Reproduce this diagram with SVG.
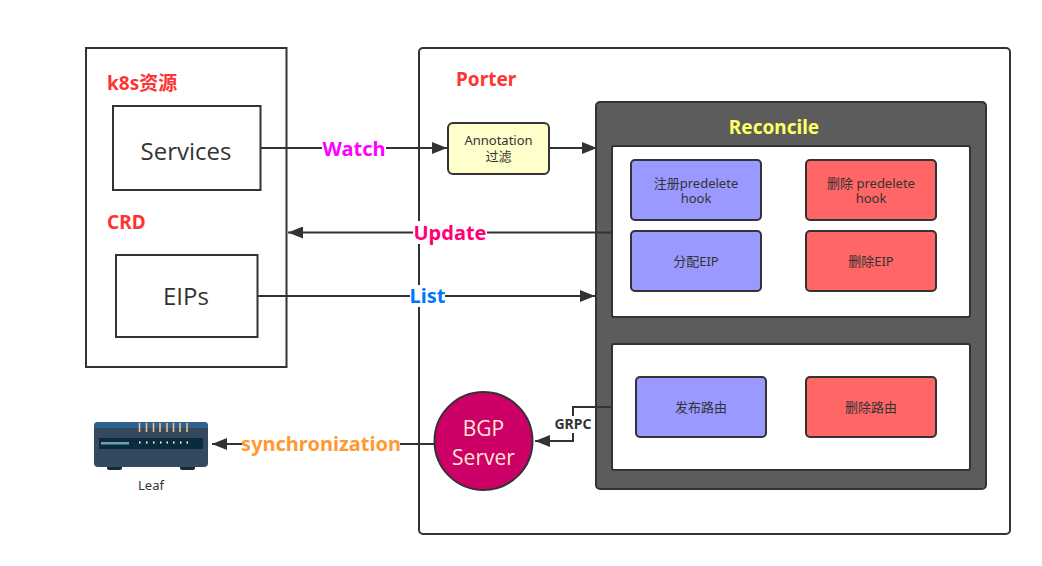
<svg xmlns="http://www.w3.org/2000/svg" width="1042" height="566" viewBox="0 0 1042 566">
<style>
.b{stroke:#333;stroke-width:2;}
.lb{font-family:"Noto Sans","Noto Sans CJK SC",sans-serif;font-weight:700;text-anchor:middle;}
.t{font-family:"Noto Sans","Noto Sans CJK SC",sans-serif;font-size:13px;fill:#333;text-anchor:middle;}
.h{font-family:"Open Sans",sans-serif;fill:#333;text-anchor:middle;}
.c{fill:none;stroke:#333;stroke-width:2;}
.blue{fill:#99f;stroke:#333;stroke-width:2;}
.red{fill:#f66;stroke:#333;stroke-width:2;}
</style>
<defs><marker id="a" markerUnits="userSpaceOnUse" markerWidth="16" markerHeight="12" refX="15" refY="6" orient="auto"><path d="M0 0L15 6L0 12Z" fill="#333"/></marker></defs>
<rect width="1042" height="566" fill="#fff"/>
<g id="k8s"><rect x="86" y="48" width="200.500" height="319" fill="#fff" class="b"/>
<text x="107" y="90" class="lb" style="text-anchor:start" font-size="19" fill="#f33">k8s资源</text>
<text x="107" y="229" class="lb" style="text-anchor:start" font-size="19" fill="#f33">CRD</text></g>
<g id="porter"><rect x="419" y="48" width="591" height="486" rx="4" fill="#fff" class="b"/>
<text x="456" y="86" class="lb" style="text-anchor:start" font-size="19" fill="#f33">Porter</text></g>
<g id="services"><rect x="113" y="106" width="147.500" height="84" fill="#fff" class="b"/><text x="186" y="160" class="h" font-size="24">Services</text></g>
<g id="eips"><rect x="116" y="255" width="141.500" height="82" fill="#fff" class="b"/><text x="186" y="305" class="h" font-size="24">EIPs</text></g>
<g id="reconcile"><rect x="596" y="102" width="390" height="387" rx="4" fill="#5c5c5c" class="b"/>
<text x="774" y="134" class="lb" font-size="19" fill="#ff6">Reconcile</text>
<rect x="612" y="146" width="358" height="171" rx="2" fill="#fff" class="b"/>
<rect x="612" y="344" width="358" height="126" rx="2" fill="#fff" class="b"/></g>
<g id="annotation"><rect x="448" y="123" width="101" height="51" rx="5" fill="#ffc" class="b"/><text x="498.500" y="145" class="t">Annotation</text><text x="498.500" y="161" class="t">过滤</text></g>
<g id="n1"><rect x="631" y="160" width="130" height="60" rx="4" class="blue"/><text x="696" y="188" class="t">注册predelete</text><text x="696" y="203" class="t">hook</text></g>
<g id="n2"><rect x="806" y="160" width="130" height="60" rx="4" class="red"/><text x="871" y="188" class="t">删除 predelete</text><text x="871" y="203" class="t">hook</text></g>
<g id="n3"><rect x="631" y="231" width="130" height="60" rx="4" class="blue"/><text x="696" y="266" class="t">分配EIP</text></g>
<g id="n4"><rect x="806" y="231" width="130" height="60" rx="4" class="red"/><text x="871" y="266" class="t">删除EIP</text></g>
<g id="n5"><rect x="636" y="377" width="130" height="60" rx="4" class="blue"/><text x="701" y="412" class="t">发布路由</text></g>
<g id="n6"><rect x="806" y="377" width="130" height="60" rx="4" class="red"/><text x="871" y="412" class="t">删除路由</text></g>
<g id="connectors">
<path class="c" d="M261 148H447" marker-end="url(#a)"/>
<path class="c" d="M550 148H597" marker-end="url(#a)"/>
<path class="c" d="M612 232.500H288" marker-end="url(#a)"/>
<path class="c" d="M258 296H595" marker-end="url(#a)"/>
<path class="c" d="M612 407H573V441H535" marker-end="url(#a)"/>
<path class="c" d="M434 444H212" marker-end="url(#a)"/>
</g>
<g id="edge-labels">
<rect x="322" y="137" width="64" height="22" fill="#fff"/><text x="354" y="156" class="lb" font-size="20" fill="#f0f">Watch</text>
<rect x="413" y="221" width="74" height="23" fill="#fff"/><text x="450" y="240" class="lb" font-size="20" fill="#f07">Update</text>
<rect x="410" y="285" width="35" height="22" fill="#fff"/><text x="427.500" y="303" class="lb" font-size="20" fill="#07f">List</text>
<rect x="554" y="416" width="38" height="17" fill="#fff"/><text x="573" y="429" class="lb" font-size="14" fill="#333">GRPC</text>
<rect x="242" y="432" width="158" height="24" fill="#fff"/><text x="321" y="451" class="lb" font-size="20" fill="#f93">synchronization</text>
</g>
<g id="bgp"><circle cx="483.500" cy="441" r="49" fill="#c06" class="b"/><text x="483.500" y="436" class="h" font-size="21" fill="#ffe0c0" style="fill:#ffe6cc">BGP</text><text x="483.500" y="465" class="h" font-size="21" style="fill:#ffe6cc">Server</text></g>
<g id="leaf">
<rect x="107" y="464" width="15" height="6" rx="2" fill="#0e2a3c"/><rect x="180" y="464" width="15" height="6" rx="2" fill="#0e2a3c"/>
<rect x="94" y="422" width="114" height="45" rx="4" fill="#34495e"/>
<path d="M94 428v-2a4 4 0 0 1 4-4h106a4 4 0 0 1 4 4v2z" fill="#2f6190"/>
<rect x="99" y="438" width="104" height="11" fill="#0b2a3c"/>
<rect x="101" y="442" width="28" height="2.500" fill="#6fa3ab"/>
<path d="M139.500 423v9M146.500 423v9M153.500 423v9M160 423v9M167 423v9M173.500 423v9M180 423v9M187 423v9" stroke="#f5c58a" stroke-width="1.500"/>
<path d="M139 442.500h1.500M146 442.500h1.500M153 442.500h1.500M160 442.500h1.500M166.500 442.500h1.500M173 442.500h1.500M180 442.500h1.500M186.500 442.500h1.500" stroke="#fff" stroke-width="2"/>
<text x="151" y="490" class="t">Leaf</text>
</g>
</svg>
